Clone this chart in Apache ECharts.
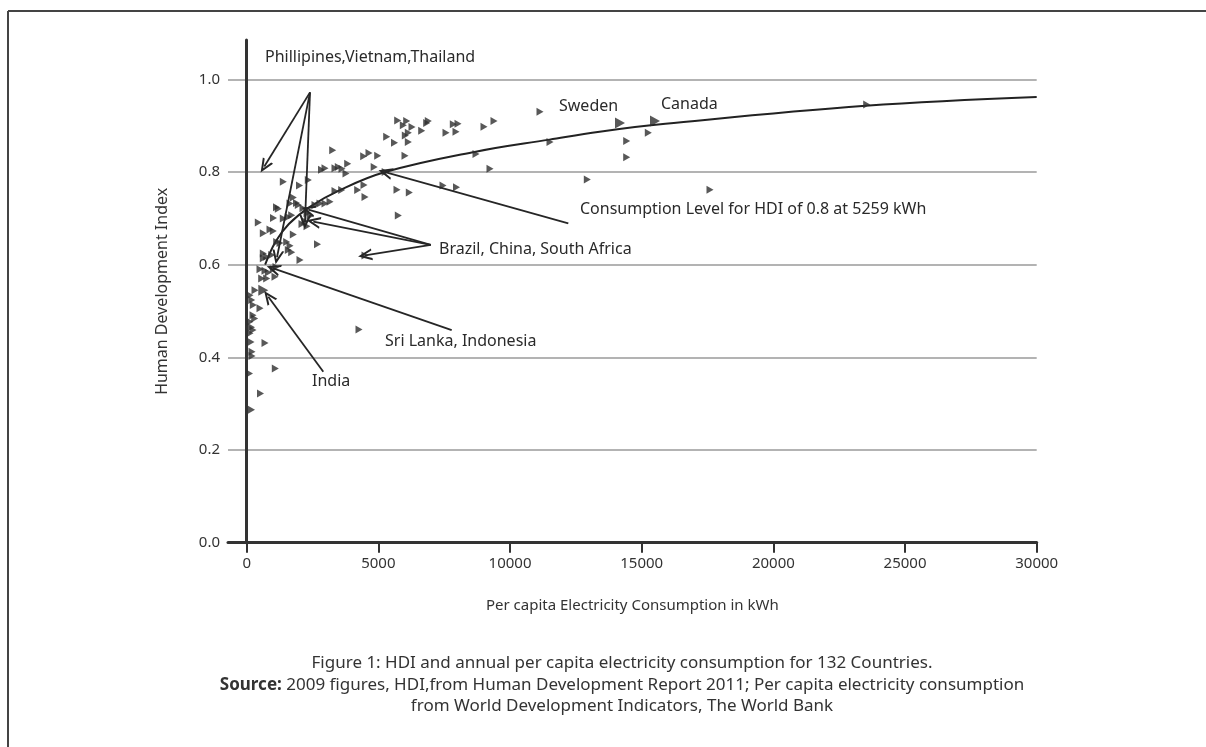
<!DOCTYPE html>
<html><head><meta charset="utf-8">
<script src="https://cdn.jsdelivr.net/npm/echarts@6/dist/echarts.min.js"></script>
<style>html,body{margin:0;padding:0;background:#fff}#c{width:1206px;height:747px}</style>
</head><body><div id="c"></div>
<script>
// Countries: [per capita electricity consumption kWh, HDI]
const points = [
[5734,0.911],[6076,0.910],[6896,0.910],[6836,0.906],[6277,0.897],[5947,0.901],[6646,0.889],[6137,0.885],[6023,0.879],[6137,0.865],
[5317,0.876],[5613,0.863],[7846,0.903],[8024,0.904],[7568,0.885],[7948,0.887],[9011,0.898],[9391,0.910],[11138,0.930],[11518,0.865],
[8708,0.839],[15251,0.885],[14431,0.867],[14431,0.832],[12934,0.784],[17594,0.762],[23545,0.946],[9239,0.807],[5260,0.800],[7454,0.771],
[7967,0.767],[5708,0.762],[6175,0.756],[5757,0.706],[4443,0.834],[4644,0.841],[4975,0.835],[6011,0.835],[4842,0.811],[3266,0.847],
[2841,0.805],[2973,0.808],[3353,0.808],[3479,0.811],[3619,0.807],[3835,0.818],[3771,0.797],[4454,0.772],[4215,0.761],[4492,0.746],
[1390,0.779],[2005,0.771],[2339,0.783],[3353,0.759],[3608,0.761],[1770,0.745],[1891,0.733],[3163,0.736],[2973,0.732],[2784,0.732],
[1132,0.724],[1644,0.732],[441,0.691],[1018,0.701],[1390,0.700],[1580,0.703],[1709,0.707],[2138,0.722],[2290,0.711],[2404,0.705],
[2214,0.694],[2100,0.688],[2290,0.683],[630,0.668],[885,0.676],[1010,0.673],[1770,0.665],[2689,0.644],[1139,0.649],[1265,0.647],
[1519,0.649],[1644,0.641],[1580,0.632],[1709,0.627],[630,0.624],[760,0.617],[630,0.614],[949,0.621],[2024,0.610],[505,0.590],
[695,0.587],[820,0.583],[1113,0.595],[1010,0.590],[570,0.570],[760,0.570],[1075,0.574],[315,0.545],[125,0.534],[190,0.524],
[251,0.513],[505,0.506],[239,0.491],[304,0.484],[125,0.477],[182,0.465],[239,0.459],[125,0.452],[163,0.433],[695,0.431],
[201,0.412],[201,0.403],[1086,0.376],[106,0.365],[524,0.322],[182,0.287],[4265,0.460],[1200,0.721],[1960,0.729],[2594,0.729],
[4492,0.620]
];
// Sweden, Canada, India
const highlighted = [[14176,0.906],[15505,0.910],[630,0.545]];
// Trend line
const trend = [[700,0.600],[1100,0.650],[1600,0.688],[2400,0.725],[3500,0.760],[5260,0.800],[8700,0.844],[11500,0.870],[13400,0.887],[15900,0.904],[23500,0.943],[30000,0.962]];
// Annotation arrows: [fromKWh, fromHDI, toKWh, toHDI]
const arrows = [
[2404,0.972,668,0.812],[2404,0.972,1151,0.616],[2404,0.972,2214,0.692],
[6991,0.643,2339,0.719],[6991,0.643,2529,0.693],[6991,0.643,4492,0.620],
[7785,0.459,1010,0.592],
[2909,0.369,820,0.531],
[12213,0.689,5259,0.800]
];
const xTicks = [0,5000,10000,15000,20000,25000,30000];
const annotationTexts = ['Phillipines,Vietnam,Thailand','Brazil, China, South Africa','Sri Lanka, Indonesia','India','Consumption Level for HDI of 0.8 at 5259 kWh','Sweden','Canada'];
const captionLines = ['Figure 1: HDI and annual per capita electricity consumption for 132 Countries.','{b|Source:} 2009 figures, HDI,from Human Development Report 2011; Per capita electricity consumption','from World Development Indicators, The World Bank'];

const FONT = '"Noto Sans", sans-serif';
const INK = '#333';
const tri = 'path://M0,0 L10,5 L0,10 Z';
const chevron = 'path://M5,0 L10,10 L8.2,10 L5,3.6 L1.8,10 L0,10 Z';

const labelPos = [[265,57],[439,249],[385,341],[312,381],[580,209],[559,106],[661,104]];
const annGraphics = annotationTexts.map((t,i)=>({
  type:'text', x:labelPos[i][0], y:labelPos[i][1], silent:true,
  style:{text:t, fontSize:16, fontFamily:FONT, fill:'#2a2a2a', align:'left', verticalAlign:'middle'}
}));
const capY = [663,685,706];
const capGraphics = captionLines.map((t,i)=>({
  type:'text', x:622, y:capY[i], silent:true,
  style:{text:t, fontSize:17, fontFamily:FONT, fill:'#333', align:'center', verticalAlign:'middle',
    rich:{b:{fontWeight:'bold', fontSize:17, fontFamily:FONT, fill:'#333'}}}
}));

const chart = echarts.init(document.getElementById('c'), null, {renderer:'canvas'});
chart.setOption({
  animation:false,
  backgroundColor:'#fff',
  grid:{left:228, right:169.3, top:40, bottom:204.3, containLabel:false, outerBoundsMode:'none'},
  xAxis:{
    type:'value', min:-710, max:30000,
    name:'Per capita Electricity Consumption in kWh', nameLocation:'middle', nameGap:56,
    nameTextStyle:{fontSize:15, fontFamily:FONT, color:INK},
    axisLine:{onZero:true, lineStyle:{color:INK, width:3}},
    axisTick:{show:true, customValues:xTicks, length:10, inside:false, lineStyle:{color:INK, width:2}},
    axisLabel:{customValues:xTicks, fontSize:15, fontFamily:FONT, color:INK, margin:14,
      formatter:v=>String(v)},
    splitLine:{show:false}
  },
  yAxis:{
    type:'value', min:0, max:1.085, interval:0.2,
    name:'Human Development Index', nameLocation:'middle', nameGap:58,
    nameTextStyle:{fontSize:16, fontFamily:FONT, color:INK},
    axisLine:{onZero:true, lineStyle:{color:INK, width:3}},
    axisTick:{show:false},
    axisLabel:{fontSize:15, fontFamily:FONT, color:INK, margin:8, showMaxLabel:false,
      formatter:v=>v.toFixed(1)},
    splitLine:{show:true, showMaxLine:false, showMinLine:false, lineStyle:{color:'#b3b3b3', width:2}}
  },
  series:[
    {type:'line', data:trend, smooth:0.4, showSymbol:false, symbol:'none', z:3,
      lineStyle:{color:'#222', width:2}, silent:true},
    {type:'scatter', data:points, symbol:tri, symbolSize:[7,8], z:4,
      itemStyle:{color:'#2e2e2e'}, silent:true,
      markLine:{silent:true, symbol:['none', chevron], symbolSize:[12,14], animation:false,
        label:{show:false}, lineStyle:{color:'#262626', width:1.8, type:'solid'},
        data: arrows.map(a=>[{coord:[a[0],a[1]]},{coord:[a[2],a[3]]}])}},
    {type:'scatter', data:highlighted, symbol:tri, symbolSize:[10,11], z:5,
      itemStyle:{color:'#2e2e2e'}, silent:true}
  ],
  graphic:[
    {type:'line', shape:{x1:8,y1:11,x2:1206,y2:11}, style:{stroke:'#444', lineWidth:2}, silent:true},
    {type:'line', shape:{x1:8,y1:11,x2:8,y2:747}, style:{stroke:'#444', lineWidth:2}, silent:true}
  ].concat(annGraphics, capGraphics)
});
</script>
</body></html>
